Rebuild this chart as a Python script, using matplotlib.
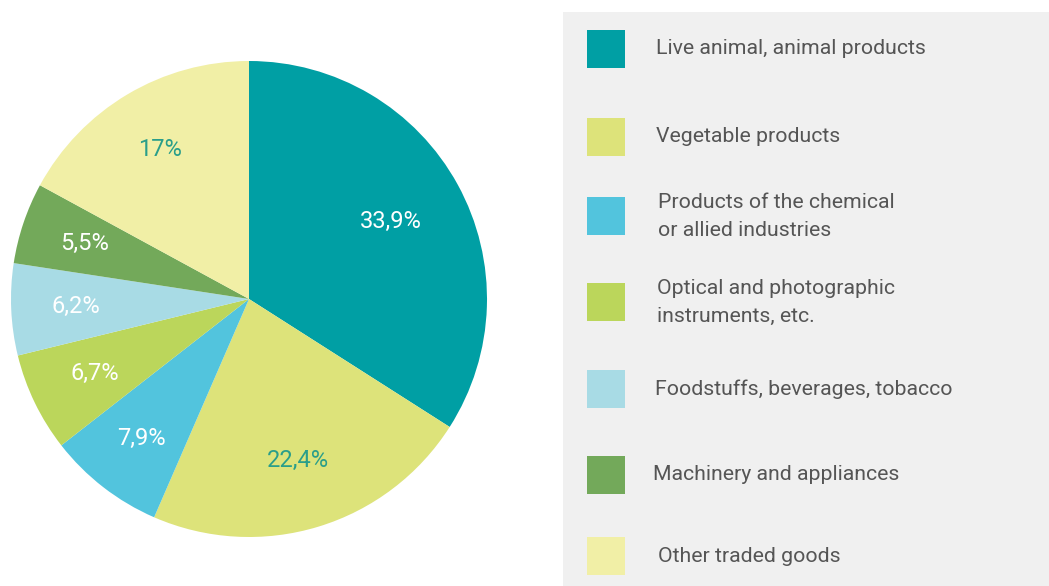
import numpy as np
import matplotlib.pyplot as plt
from matplotlib.patches import Rectangle

# Data
categories = [
    "Live animal, animal products",
    "Vegetable products",
    "Products of the chemical\nor allied industries",
    "Optical and photographic\ninstruments, etc.",
    "Foodstuffs, beverages, tobacco",
    "Machinery and appliances",
    "Other traded goods",
]
shares = [33.9, 22.4, 7.9, 6.7, 6.2, 5.5, 17.0]
share_labels = ["33,9%", "22,4%", "7,9%", "6,7%", "6,2%", "5,5%", "17%"]

colors = ["#009FA4", "#DDE37A", "#52C4DD", "#BBD65B", "#A8DBE5", "#73A95A", "#F1EFA6"]
label_colors = ["white", "#2A9E8A", "white", "white", "white", "white", "#2A9E8A"]
label_dist = [0.68, 0.71, 0.74, 0.72, 0.73, 0.73, 0.73]

W, H = 1049, 586
fig = plt.figure(figsize=(W / 100, H / 100), dpi=100)
fig.patch.set_facecolor("white")

# legend panel background
fig.patches.append(Rectangle((563 / W, 0), (W - 563) / W, (H - 12) / H,
                             transform=fig.transFigure, facecolor="#F0F0F0",
                             edgecolor="none", zorder=0))

# pie axes: centre (249, 299) px, radius 238 px
cx, cy, r = 249, 299, 238
half = 1.02 * r
ax = fig.add_axes([(cx - half) / W, (H - cy - half) / H, 2 * half / W, 2 * half / H])
wedges, _ = ax.pie(shares, colors=colors, startangle=90, counterclock=False,
                   radius=1.0, wedgeprops=dict(linewidth=0))
ax.set_xlim(-1.02, 1.02)
ax.set_ylim(-1.02, 1.02)
ax.set_aspect("equal")
ax.axis("off")

for w, lab, col, d in zip(wedges, share_labels, label_colors, label_dist):
    ang = np.deg2rad((w.theta1 + w.theta2) / 2)
    ax.text(d * np.cos(ang), d * np.sin(ang), lab, ha="center", va="center",
            color=col, fontsize=17, family="Roboto")

# legend entries
square_centers = [49, 137, 216, 302, 389, 475, 556]
text_x = [656, 656, 658, 657, 655, 653, 658]
for cat, col, yc, tx in zip(categories, colors, square_centers, text_x):
    fig.patches.append(Rectangle((587 / W, (H - yc - 19) / H), 38 / W, 38 / H,
                                 transform=fig.transFigure, facecolor=col,
                                 edgecolor="none", zorder=1))
    fig.text(tx / W, (H - yc) / H, cat, ha="left", va="center", color="#555555",
             fontsize=15.3, family="Roboto", linespacing=1.6)

fig.savefig("out.png", dpi=100)
